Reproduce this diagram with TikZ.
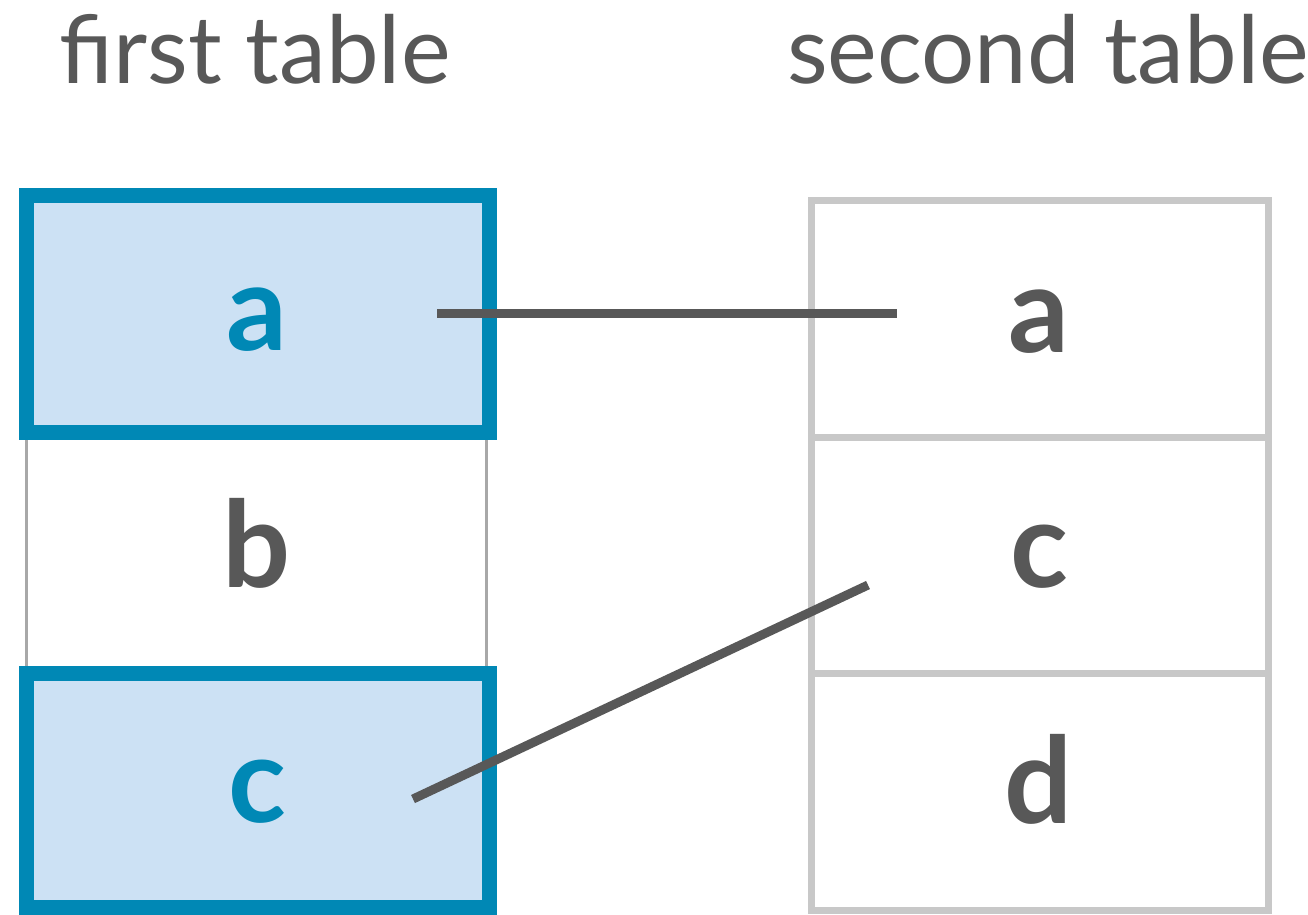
\documentclass[tikz,border=0pt]{standalone}
\usepackage{fontspec}
\setmainfont{Lato}
\definecolor{hlblue}{HTML}{0088B5}
\definecolor{hlfill}{HTML}{CCE1F4}
\definecolor{ink}{HTML}{585858}
\definecolor{gridgray}{HTML}{C8C8C8}
\definecolor{sidegray}{HTML}{A8A8A8}
\tikzset{
  hlcell/.style={draw=hlblue, fill=hlfill, line width=15pt, inner sep=0pt},
  plaincell/.style={draw=sidegray, line width=3pt, inner sep=0pt},
  rcell/.style={draw=gridgray, line width=7pt, inner sep=0pt},
  title/.style={font=\fontsize{94}{110}\selectfont, text=ink, anchor=base, inner sep=0pt},
  letterL/.style={font=\fontsize{120}{140}\selectfont\bfseries, text=hlblue, anchor=base, inner sep=0pt},
  letterR/.style={font=\fontsize{120}{140}\selectfont\bfseries, text=ink, anchor=base, inner sep=0pt},
  link/.style={draw=ink, line width=9pt}
}
\begin{document}
\begin{tikzpicture}[x=1pt,y=-1pt]
\useasboundingbox (0,0) rectangle (1308,914);
% titles
\node[title] (t1) at (255,83) {first table};
\node[title] (t2) at (1048,83) {second table};
% left table
\node[plaincell, minimum width=460pt, minimum height=236pt] (Lb) at (256,555) {};
\node[hlcell, minimum width=463pt, minimum height=237pt] (La) at (257.5,314) {};
\node[hlcell, minimum width=463pt, minimum height=234pt] (Lc) at (257.5,790) {};
% right table
\node[rcell, minimum width=457pt, minimum height=237pt] (Ra) at (1039.5,318.5) {};
\node[rcell, minimum width=457pt, minimum height=236pt] (Rc) at (1039.5,555) {};
\node[rcell, minimum width=457pt, minimum height=237pt] (Rd) at (1039.5,791.5) {};
% letters
\node[letterL] (la) at (257,350) {a};
\node[letterR] (lb) at (257,587) {b};
\node[letterL] (lc) at (257,822) {c};
\node[letterR] (ra) at (1039,352) {a};
\node[letterR] (rc) at (1039,587) {c};
\node[letterR] (rd) at (1039,823) {d};
% connector ends
\coordinate (pa1) at (437,313);
\coordinate (pa2) at (897,313);
\coordinate (pc1) at (413,799);
\coordinate (pc2) at (868,585);
\draw[link] (pa1) -- (pa2);
\draw[link] (pc1) -- (pc2);
\end{tikzpicture}
\end{document}
